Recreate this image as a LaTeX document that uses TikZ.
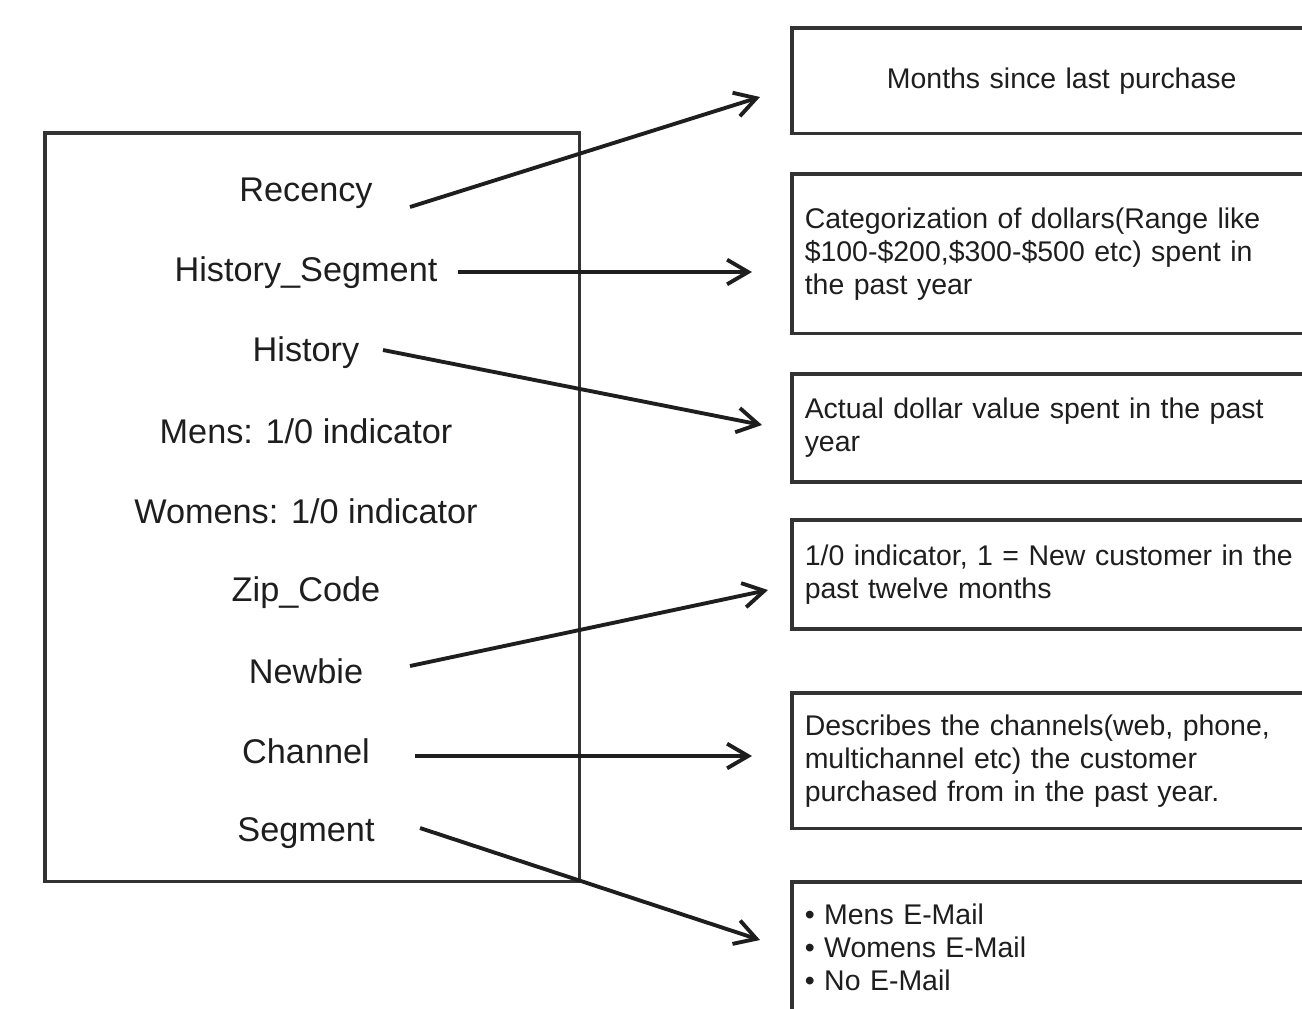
\documentclass[tikz,border=0pt]{standalone}
\usepackage{fontspec}
\setmainfont{Liberation Sans}
\usepackage{tikz}
\usetikzlibrary{arrows.meta}
\usetikzlibrary{positioning}
\definecolor{framegray}{HTML}{333333}
\definecolor{inkgray}{HTML}{1E1E1E}
\tikzstyle{field}=[text=inkgray,font=\fontsize{19.5}{23}\selectfont,inner sep=0pt]
\tikzstyle{descbox}=[draw=framegray,line width=2pt,anchor=north west,minimum width=10.8cm,inner xsep=0.26cm,text width=10.28cm,align=left,text=inkgray,font=\fontsize{16.2}{18.8}\selectfont]
\tikzstyle{link} = [draw=inkgray,line width=2.2pt,-{Straight Barb[length=12pt,width=14pt,line width=2.2pt]}]

\begin{document}
\begin{tikzpicture}
		[x=0.02cm,y=-0.02cm]
		\useasboundingbox (0,0) rectangle (1302,1008);
		% left box with the fields
		\node[draw=framegray,line width=2pt,anchor=north west,minimum width=10.7cm,minimum height=14.98cm] (fields) at (43,131) {};
		\node[field] (rec) at (306,193) {Recency};
		\node[field] (hseg) at (306,273) {History\_Segment};
		\node[field] (hist) at (306,353) {History};
		\node[field] (mens) at (306,431) {Mens: 1/0 indicator};
		\node[field] (womens) at (306,511) {Womens: 1/0 indicator};
		\node[field] (zip) at (306,593) {Zip\_Code};
		\node[field] (newbie) at (306,671) {Newbie};
		\node[field] (chan) at (306,751) {Channel};
		\node[field] (seg) at (306,833) {Segment};
		
		% right boxes with the descriptions
		\node[descbox,minimum height=2.12cm,align=center] (months) at (790,26) {Months since last purchase};
		\node[descbox,minimum height=3.2cm] (cat) at (790,172) {Categorization of dollars(Range like\\\$100-\$200,\$300-\$500 etc) spent in\\the past year};
		\node[descbox,minimum height=2.16cm] (actual) at (790,372) {Actual dollar value spent in the past\\year};
		\node[descbox,minimum height=2.18cm] (new) at (790,518) {1/0 indicator, 1 = New customer in the\\past twelve months};
		\node[descbox,minimum height=2.72cm] (chdesc) at (790,691) {Describes the channels(web, phone,\\multichannel etc) the customer\\purchased from in the past year.};
		\node[descbox,minimum height=2.64cm] (mail) at (790,880) {• Mens E-Mail\\• Womens E-Mail\\• No E-Mail};
		
		% arrow ends
		\coordinate (rec-out) at (410,207);
		\coordinate (months-in) at (760,97);
		\coordinate (hseg-out) at (458,272);
		\coordinate (cat-in) at (752,272);
		\coordinate (hist-out) at (383,350);
		\coordinate (actual-in) at (762,425);
		\coordinate (newbie-out) at (410,666);
		\coordinate (new-in) at (768,590);
		\coordinate (chan-out) at (415,756);
		\coordinate (chdesc-in) at (752,756);
		\coordinate (seg-out) at (420,828);
		\coordinate (mail-in) at (760,940);
		
		\draw[link] (rec-out) -- (months-in);
		\draw[link] (hseg-out) -- (cat-in);
		\draw[link] (hist-out) -- (actual-in);
		\draw[link] (newbie-out) -- (new-in);
		\draw[link] (chan-out) -- (chdesc-in);
		\draw[link] (seg-out) -- (mail-in);
		
		\end{tikzpicture}
\end{document}
